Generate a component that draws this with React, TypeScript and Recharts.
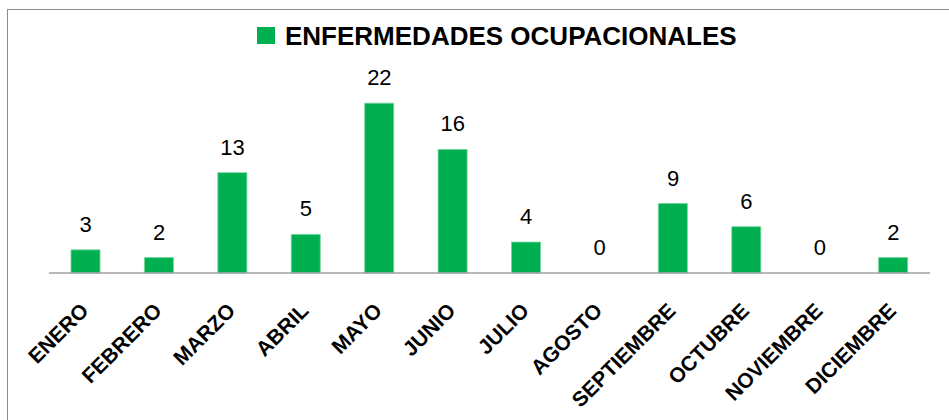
import React from 'react';
import { ComposedChart, Bar, Line, XAxis, YAxis, LabelList, Legend } from 'recharts';

const months = ['ENERO', 'FEBRERO', 'MARZO', 'ABRIL', 'MAYO', 'JUNIO', 'JULIO', 'AGOSTO', 'SEPTIEMBRE', 'OCTUBRE', 'NOVIEMBRE', 'DICIEMBRE'];
const cases = [3, 2, 13, 5, 22, 16, 4, 0, 9, 6, 0, 2];
const seriesName = 'ENFERMEDADES OCUPACIONALES';

const data = months.map((mes, i) => ({ mes, casos: cases[i] }));

const GREEN = '#00B050';
const FONT = '"Liberation Sans", Arial, sans-serif';

const MonthTick = (props: any) => {
  const { x, y, payload } = props;
  const ax = x + 4;
  const ay = y + 39;
  return (
    <text
      x={ax}
      y={ay}
      transform={`rotate(-45, ${ax}, ${ay})`}
      textAnchor="end"
      fontFamily={FONT}
      fontWeight="bold"
      fontSize={21}
      fill="#000"
    >
      {payload.value}
    </text>
  );
};

// data label above each value point, drawn for zero values too
const ValueLabel = (props: any) => {
  const { x, y, value } = props;
  return (
    <text x={Number(x)} y={Number(y) - 18} textAnchor="middle" fontFamily={FONT} fontSize={22} fill="#000">
      {value}
    </text>
  );
};

const TopLegend = () => (
  <svg width={949} height={60} style={{ display: 'block' }}>
    <rect x={257} y={27} width={18} height={17} fill={GREEN} />
    <text x={285} y={45} fontFamily={FONT} fontWeight="bold" fontSize={26} fill="#000">
      {seriesName}
    </text>
  </svg>
);

const App: React.FC = () => {
  return (
    <div style={{ position: 'absolute', left: 0, top: 0, width: 949, height: 420, background: '#fff', overflow: 'hidden' }}>
      <div
        style={{
          position: 'absolute',
          left: 7,
          top: 9,
          width: 960,
          height: 440,
          borderTop: '1.5px solid #8c8c8c',
          borderLeft: '1.5px solid #8c8c8c',
        }}
      />
      <div style={{ position: 'absolute', left: 0, top: 0 }}>
        <ComposedChart width={949} height={420} data={data} margin={{ top: 20, right: 19, left: 49, bottom: 0 }} barCategoryGap="30%">
          <XAxis
            dataKey="mes"
            height={147}
            interval={0}
            tickLine={false}
            tickSize={0}
            tickMargin={0}
            tick={<MonthTick />}
            axisLine={{ stroke: '#a0a0a0', strokeWidth: 1.5 }}
          />
          <YAxis hide domain={[0, 25]} />
          <Legend verticalAlign="top" height={60} wrapperStyle={{ top: 0, left: 0, width: 949 }} content={<TopLegend />} />
          <Bar dataKey="casos" name={seriesName} fill={GREEN} stroke="#6fd49a" strokeWidth={0.8} isAnimationActive={false} />
          <Line dataKey="casos" stroke="none" dot={false} activeDot={false} legendType="none" isAnimationActive={false}>
            <LabelList dataKey="casos" content={<ValueLabel />} />
          </Line>
        </ComposedChart>
      </div>
    </div>
  );
};

export default App;
